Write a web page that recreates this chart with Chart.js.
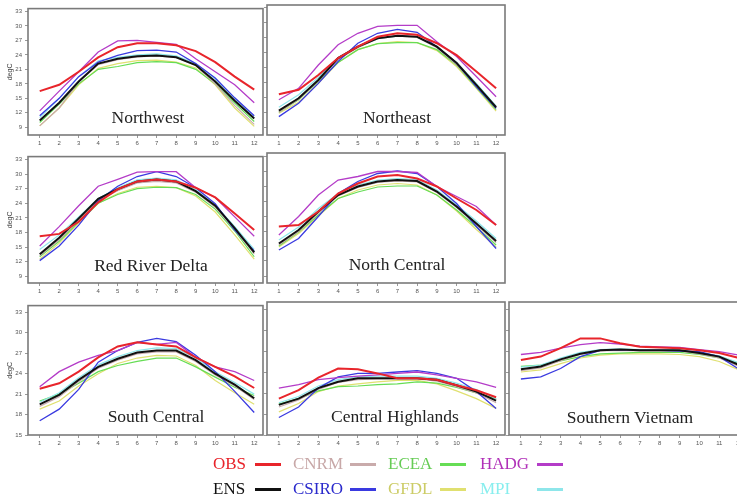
<!DOCTYPE html>
<html><head><meta charset="utf-8">
<script src="https://cdn.jsdelivr.net/npm/chart.js"></script>
<style>
html,body{margin:0;padding:0;background:#fff;width:737px;height:499px;overflow:hidden;position:relative}
canvas.pc{position:absolute}
.ttl{position:absolute;font-family:"Liberation Serif",serif;font-size:17.5px;color:#222;transform:translate(-50%,-50%);white-space:nowrap}
.lt{position:absolute;font-family:"Liberation Serif",serif;font-size:17px;line-height:20px;white-space:nowrap}
.ll{position:absolute;height:3px;width:26px}
</style>
</head><body>
<script>
// ---- data ----
const months = [1,2,3,4,5,6,7,8,9,10,11,12];
const yTicksNorth = [9,12,15,18,21,24,27,30,33];
const yTicksSouth = [15,18,21,24,27,30,33];
const models = ['OBS','ENS','HADG','CSIRO','MPI','CNRM','ECEA','GFDL'];

// Northwest
const NW_OBS   = [16.5,17.8,20.5,23.5,25.6,26.4,26.4,26.0,24.8,22.5,19.5,16.8];
const NW_ENS   = [10.4,14.1,18.5,22.2,23.2,23.7,23.9,23.5,21.9,18.5,14.5,10.8];
const NW_CNRM  = [9.3,13.0,18.4,22.0,23.0,23.6,23.8,23.5,21.8,18.0,13.5,9.6];
const NW_CSIRO = [11.4,15.0,19.5,22.5,23.9,24.9,25.0,24.6,22.2,19.2,15.1,11.4];
const NW_ECEA  = [10.0,13.8,18.0,21.0,21.6,22.4,22.6,22.4,21.0,18.0,14.0,10.2];
const NW_GFDL  = [9.3,13.0,17.8,21.2,22.2,22.8,22.9,22.5,21.3,17.8,13.0,9.2];
const NW_HADG  = [12.4,16.5,20.5,24.6,26.9,27.0,26.6,26.2,23.2,20.5,17.8,14.1];
const NW_MPI   = [11.0,15.0,19.5,22.8,23.5,24.0,24.2,23.8,22.2,19.0,15.0,11.0];
// Northeast
const NE_OBS   = [15.6,16.5,19.5,22.9,25.2,27.2,27.9,27.6,25.9,23.5,20.2,16.8];
const NE_ENS   = [12.3,14.8,18.5,22.9,25.2,26.9,27.4,27.2,25.2,21.9,17.5,13.0];
const NE_CNRM  = [12.0,14.6,18.3,22.6,25.0,26.8,27.3,27.1,25.0,21.6,17.3,12.8];
const NE_CSIRO = [11.1,13.8,17.8,22.2,25.9,27.9,28.7,28.1,25.2,21.9,17.1,12.8];
const NE_ECEA  = [12.0,14.5,18.2,22.0,24.6,25.8,26.0,26.0,24.6,21.5,17.0,12.5];
const NE_GFDL  = [11.8,14.0,17.8,22.0,24.6,25.8,26.2,26.0,24.4,21.2,16.8,12.2];
const NE_HADG  = [14.5,16.8,21.5,25.6,27.9,29.3,29.5,29.5,26.2,23.2,19.2,15.1];
const NE_MPI   = [13.0,15.5,19.0,23.0,25.2,26.8,27.3,27.2,25.2,22.0,17.8,13.2];
// Red River Delta
const RRD_OBS   = [17.2,17.7,20.2,24.2,26.9,28.5,28.9,28.5,27.2,25.2,21.9,18.5];
const RRD_ENS   = [13.5,16.9,20.9,24.9,26.9,28.5,28.9,28.5,26.5,23.5,18.9,13.9];
const RRD_CNRM  = [13.2,16.5,20.5,24.5,26.6,28.2,28.5,28.2,26.3,23.2,18.6,13.6];
const RRD_CSIRO = [12.2,15.2,19.5,24.5,27.5,29.5,30.5,29.5,27.2,23.9,18.5,14.2];
const RRD_ECEA  = [13.0,16.2,20.2,24.0,25.8,27.0,27.3,27.2,25.8,22.8,18.3,13.0];
const RRD_GFDL  = [12.5,15.8,20.0,24.0,26.0,27.3,27.5,27.2,25.5,22.2,17.5,12.5];
const RRD_HADG  = [15.2,19.2,23.5,27.5,28.9,30.4,30.5,30.5,27.2,25.2,21.2,17.2];
const RRD_MPI   = [14.5,17.5,21.2,25.0,27.2,28.8,29.2,28.8,26.8,23.6,19.2,14.5];
// North Central
const NC_OBS   = [18.9,19.2,21.9,25.5,27.5,28.9,29.2,28.5,26.9,24.5,22.2,19.2];
const NC_ENS   = [15.5,18.2,21.9,25.2,26.9,27.9,28.2,28.0,25.9,22.9,19.5,16.0];
const NC_CNRM  = [15.2,17.9,21.6,25.0,26.7,27.7,28.0,27.8,25.7,22.7,19.2,15.7];
const NC_CSIRO = [14.2,16.5,20.9,25.5,27.9,29.5,30.0,29.5,26.9,23.5,18.9,14.5];
const NC_ECEA  = [15.0,17.8,21.2,24.5,25.8,26.8,27.0,27.0,25.2,22.2,18.8,15.2];
const NC_GFDL  = [14.8,17.5,21.0,24.5,26.2,27.2,27.5,27.2,25.2,22.0,18.3,14.8];
const NC_HADG  = [17.2,20.9,25.2,28.2,28.9,29.9,29.9,29.7,26.9,24.9,22.9,19.2];
const NC_MPI   = [16.2,18.8,22.5,25.5,27.2,28.2,28.5,28.3,26.2,23.2,20.0,16.5];
// South Central
const SC_OBS   = [21.8,22.6,24.3,26.4,28.0,28.6,28.3,28.0,26.4,25.0,23.6,21.9];
const SC_ENS   = [19.5,20.9,23.1,25.0,26.2,27.1,27.4,27.4,26.0,24.0,22.4,20.4];
const SC_CNRM  = [19.2,20.6,22.8,24.8,26.0,26.9,27.2,27.2,25.8,23.8,22.2,20.2];
const SC_CSIRO = [17.1,18.8,21.7,25.7,27.4,28.6,29.2,28.7,26.7,24.3,21.4,18.3];
const SC_ECEA  = [20.0,21.0,22.6,24.3,25.2,25.8,26.3,26.3,25.0,23.5,22.0,20.8];
const SC_GFDL  = [18.8,20.0,22.2,24.0,25.5,26.3,26.7,26.6,25.2,23.0,21.2,19.5];
const SC_HADG  = [22.1,24.3,25.7,26.7,27.4,28.6,28.3,28.6,26.4,25.0,24.3,23.0];
const SC_MPI   = [19.8,21.2,23.4,25.3,26.5,27.4,27.8,27.7,26.3,24.3,22.7,21.0];
// Central Highlands
const CH_OBS   = [20.2,21.4,23.2,24.5,24.4,23.8,23.1,23.1,22.9,22.1,21.4,20.4];
const CH_ENS   = [19.3,20.2,21.7,22.6,23.1,23.1,23.1,23.1,22.9,22.1,21.2,19.9];
const CH_CNRM  = [19.0,20.0,21.5,22.5,22.9,23.0,23.0,23.0,22.7,21.9,21.0,19.6];
const CH_CSIRO = [17.5,19.0,21.7,23.3,23.8,23.8,24.0,24.2,23.8,23.1,21.2,18.8];
const CH_ECEA  = [19.4,20.2,21.3,21.9,22.0,22.2,22.3,22.6,22.4,21.8,21.0,20.2];
const CH_GFDL  = [18.3,19.5,21.2,22.0,22.3,22.6,22.8,22.8,22.3,21.3,20.2,18.8];
const CH_HADG  = [21.7,22.2,22.9,23.2,23.4,23.6,23.8,24.0,23.6,23.1,22.6,21.8];
const CH_MPI   = [19.6,20.5,22.0,22.9,23.3,23.4,23.4,23.4,23.1,22.4,21.5,20.2];
// Southern Vietnam
const SV_OBS   = [25.7,26.2,27.4,28.8,28.8,28.1,27.6,27.5,27.4,27.1,26.7,26.0];
const SV_ENS   = [24.4,24.8,25.8,26.6,27.1,27.2,27.1,27.1,27.1,26.7,26.2,25.0];
const SV_CNRM  = [24.2,24.6,25.6,26.5,27.0,27.1,27.0,27.0,27.0,26.6,26.0,24.8];
const SV_CSIRO = [23.0,23.3,24.5,26.2,27.1,27.2,27.1,27.1,27.0,26.9,26.2,24.4];
const SV_ECEA  = [24.8,25.0,25.6,26.2,26.6,26.7,26.8,26.8,26.8,26.5,26.0,25.2];
const SV_GFDL  = [24.0,24.3,25.2,26.0,26.4,26.6,26.6,26.6,26.5,26.2,25.5,24.3];
const SV_HADG  = [26.5,26.8,27.4,27.9,28.2,28.0,27.7,27.6,27.5,27.2,26.9,26.4];
const SV_MPI   = [24.7,25.0,26.0,26.8,27.2,27.3,27.2,27.2,27.2,26.8,26.3,25.3];

// ---- styles / layout ----
const styles = {
  OBS:{c:'#e8252b',w:2}, ENS:{c:'#111111',w:2}, HADG:{c:'#b43cc8',w:1.3},
  CSIRO:{c:'#3a3ae0',w:1.3}, MPI:{c:'#8ee6ea',w:1.2}, CNRM:{c:'#c9abab',w:1.2},
  ECEA:{c:'#66dd55',w:1.2}, GFDL:{c:'#e0e070',w:1.2}
};
const cols = [{l:28,r:263},{l:267,r:505},{l:509,r:748}];
const rows = [{t:5,b:135,min:7.4,max:33.6,ticks:yTicksNorth},
              {t:153,b:283,min:7.6,max:33.6,ticks:yTicksNorth},
              {t:302,b:435,min:15,max:34,ticks:yTicksSouth}];
const panels = [
  {name:'Northwest', c:0, r:0, tx:148, ty:117, d:{OBS:NW_OBS,ENS:NW_ENS,CNRM:NW_CNRM,CSIRO:NW_CSIRO,ECEA:NW_ECEA,GFDL:NW_GFDL,HADG:NW_HADG,MPI:NW_MPI}},
  {name:'Northeast', c:1, r:0, tx:397, ty:117, d:{OBS:NE_OBS,ENS:NE_ENS,CNRM:NE_CNRM,CSIRO:NE_CSIRO,ECEA:NE_ECEA,GFDL:NE_GFDL,HADG:NE_HADG,MPI:NE_MPI}},
  {name:'Red River Delta', c:0, r:1, tx:151, ty:265, d:{OBS:RRD_OBS,ENS:RRD_ENS,CNRM:RRD_CNRM,CSIRO:RRD_CSIRO,ECEA:RRD_ECEA,GFDL:RRD_GFDL,HADG:RRD_HADG,MPI:RRD_MPI}},
  {name:'North Central', c:1, r:1, tx:397, ty:264, d:{OBS:NC_OBS,ENS:NC_ENS,CNRM:NC_CNRM,CSIRO:NC_CSIRO,ECEA:NC_ECEA,GFDL:NC_GFDL,HADG:NC_HADG,MPI:NC_MPI}},
  {name:'South Central', c:0, r:2, tx:156, ty:416, d:{OBS:SC_OBS,ENS:SC_ENS,CNRM:SC_CNRM,CSIRO:SC_CSIRO,ECEA:SC_ECEA,GFDL:SC_GFDL,HADG:SC_HADG,MPI:SC_MPI}},
  {name:'Central Highlands', c:1, r:2, tx:395, ty:416, d:{OBS:CH_OBS,ENS:CH_ENS,CNRM:CH_CNRM,CSIRO:CH_CSIRO,ECEA:CH_ECEA,GFDL:CH_GFDL,HADG:CH_HADG,MPI:CH_MPI}},
  {name:'Southern Vietnam', c:2, r:2, tx:630, ty:417, d:{OBS:SV_OBS,ENS:SV_ENS,CNRM:SV_CNRM,CSIRO:SV_CSIRO,ECEA:SV_ECEA,GFDL:SV_GFDL,HADG:SV_HADG,MPI:SV_MPI}}
];

const framePlugin = {
  id:'frame',
  afterDraw(chart){
    const a = chart.chartArea, ctx = chart.ctx;
    ctx.save();
    ctx.strokeStyle = '#7a7a7a';
    ctx.lineWidth = 1.6;
    ctx.strokeRect(a.left, a.top, a.right - a.left, a.bottom - a.top);
    ctx.restore();
  }
};

const XH = 14, PAD = 3;
panels.forEach(p => {
  const col = cols[p.c], row = rows[p.r];
  const showY = p.c === 0;
  const W = showY ? 28 : 4;
  const cv = document.createElement('canvas');
  cv.className = 'pc';
  const w = W + (col.r - col.l) + PAD, h = PAD + (row.b - row.t) + XH;
  cv.width = w; cv.height = h;
  cv.style.width = w + 'px'; cv.style.height = h + 'px';
  cv.style.left = (col.l - W) + 'px'; cv.style.top = (row.t - PAD) + 'px';
  document.body.appendChild(cv);
  new Chart(cv.getContext('2d'), {
    type:'line',
    data:{ datasets: models.map(m => ({
      label:m,
      data: months.map((x,i) => ({x:x, y:p.d[m][i]})),
      borderColor: styles[m].c, borderWidth: styles[m].w,
      pointRadius:0, tension:0, fill:false
    }))},
    options:{
      responsive:false, animation:false, devicePixelRatio:1,
      layout:{padding:{top:PAD,right:PAD,left:0,bottom:0}},
      plugins:{legend:{display:false}, tooltip:{enabled:false}},
      scales:{
        x:{type:'linear', min:0.4, max:12.45,
          afterFit(s){ s.height = XH; },
          afterBuildTicks(s){ s.ticks = months.map(v => ({value:v})); },
          grid:{drawOnChartArea:false, tickLength:3, color:'#999'},
          border:{display:false},
          ticks:{font:{size:6, family:'Liberation Sans'}, color:'#555', padding:2, maxRotation:0, autoSkip:false}
        },
        y:{type:'linear', min:row.min, max:row.max,
          afterFit(s){ s.width = W; },
          afterBuildTicks(s){ s.ticks = row.ticks.map(v => ({value:v})); },
          grid:{drawOnChartArea:false, tickLength:3, color:'#999'},
          border:{display:false},
          ticks:{display:showY, font:{size:6, family:'Liberation Sans'}, color:'#555', padding:3},
          title:{display:showY, text:'degC', font:{size:7, family:'Liberation Sans'}, color:'#444', padding:{top:6,bottom:0}}
        }
      }
    },
    plugins:[framePlugin]
  });
  const t = document.createElement('div');
  t.className = 'ttl';
  t.textContent = p.name;
  t.style.left = p.tx + 'px'; t.style.top = p.ty + 'px';
  document.body.appendChild(t);
});

// legend
const legendItems = [
  {m:'OBS', x:213, y:464, lx:255, tc:'#e8232a'},
  {m:'CNRM', x:293, y:464, lx:350, tc:'#c8a8a8'},
  {m:'ECEA', x:388, y:464, lx:440, tc:'#66cc55'},
  {m:'HADG', x:480, y:464, lx:537, tc:'#b030b8'},
  {m:'ENS', x:213, y:489, lx:255, tc:'#111111'},
  {m:'CSIRO', x:293, y:489, lx:350, tc:'#2a2acc'},
  {m:'GFDL', x:388, y:489, lx:440, tc:'#cccc66'},
  {m:'MPI', x:480, y:489, lx:537, tc:'#88eeee'}
];
legendItems.forEach(it => {
  const s = document.createElement('div');
  s.className = 'lt'; s.textContent = it.m; s.style.color = it.tc;
  s.style.left = it.x + 'px'; s.style.top = (it.y - 10) + 'px';
  document.body.appendChild(s);
  const l = document.createElement('div');
  l.className = 'll'; l.style.background = styles[it.m].c;
  l.style.left = it.lx + 'px'; l.style.top = (it.y - 1) + 'px';
  document.body.appendChild(l);
});
</script>
</body></html>
